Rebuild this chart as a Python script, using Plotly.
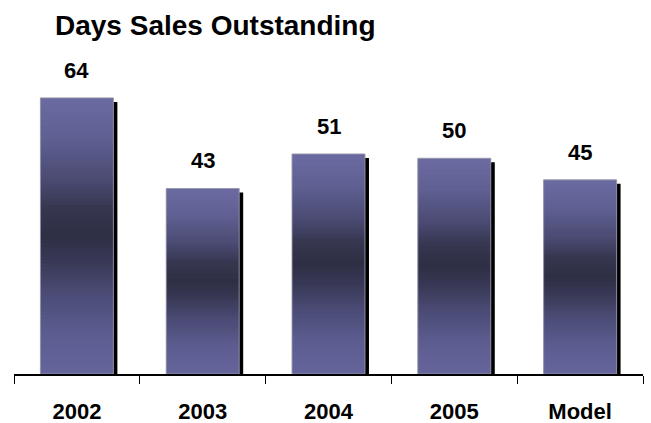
import plotly.graph_objects as go
import numpy as np

categories = ["2002", "2003", "2004", "2005", "Model"]
values = [64, 43, 51, 50, 45]
title_text = "Days Sales Outstanding"

# gradient stops: (fraction from bottom, color)
stops = [(0.0, (0x65, 0x65, 0x9c)), (0.15, (0x5c, 0x5c, 0x90)), (0.3, (0x4a, 0x4a, 0x74)),
         (0.4, (0x3a, 0x3a, 0x58)), (0.5, (0x2e, 0x2e, 0x44)), (0.6, (0x36, 0x36, 0x50)),
         (0.7, (0x4a, 0x4a, 0x72)), (0.85, (0x5f, 0x5f, 0x92)), (1.0, (0x6b, 0x6b, 0xa2))]

def grad(f):
    for (f0, c0), (f1, c1) in zip(stops[:-1], stops[1:]):
        if f0 <= f <= f1:
            t = (f - f0) / (f1 - f0)
            c = [round(a + (b - a) * t) for a, b in zip(c0, c1)]
            return "rgb(%d,%d,%d)" % tuple(c)
    return "rgb(%d,%d,%d)" % stops[-1][1]

W = 0.58
px_per_unit = 302 / 70
vals = np.array(values, dtype=float)

fig = go.Figure()
# shadow
fig.add_trace(go.Bar(x=categories, y=list(vals - 4 / px_per_unit), width=W, offset=-W / 2 + 4 / 125.8,
                     marker=dict(color="black", line=dict(width=0)), hoverinfo="skip", showlegend=False))
N = 80
for i in range(N):
    base = vals * i / N
    top = vals * min(1.0, (i + 1.6) / N)
    fig.add_trace(go.Bar(x=categories, y=list(top - base), base=list(base), width=W, offset=-W / 2,
                         marker=dict(color=grad((i + 0.5) / N), line=dict(width=0)),
                         hoverinfo="skip", showlegend=False))
# outline
fig.add_trace(go.Bar(x=categories, y=values, width=W, offset=-W / 2,
                     marker=dict(color="rgba(0,0,0,0)", line=dict(width=1, color="rgba(150,150,170,0.9)")),
                     hoverinfo="skip", showlegend=False))

for idx, v in enumerate(values):
    fig.add_annotation(x=idx, y=v, text="<b>%d</b>" % v, showarrow=False, yanchor="bottom", yshift=13,
                       font=dict(size=22, color="black", family="Liberation Sans, Arial"))

fig.update_layout(
    width=651, height=423, barmode="overlay",
    margin=dict(l=14, r=8, t=72, b=49, autoexpand=False),
    paper_bgcolor="white", plot_bgcolor="white",
    font=dict(family="Liberation Sans, Arial", color="black"),
    title=dict(text="<b>" + title_text + "</b>", x=55 / 651, xanchor="left", y=1 - 25 / 423, yanchor="middle",
               font=dict(size=28, color="black")),
    xaxis=dict(type="category", categoryorder="array", categoryarray=categories, range=[-0.5, 4.5],
               automargin=False,
               showline=True, linecolor="black", linewidth=1.5, ticks="outside",
               tickson="boundaries", ticklen=8, tickcolor="black", tickwidth=1, showgrid=False,
               tickfont=dict(size=22, color="black"), ticklabelstandoff=17, zeroline=False,
               tickprefix="<b>", ticksuffix="</b>", tickangle=0),
    yaxis=dict(range=[0, 70], visible=False, showgrid=False, zeroline=False, automargin=False),
)
fig.write_html("out.html")
